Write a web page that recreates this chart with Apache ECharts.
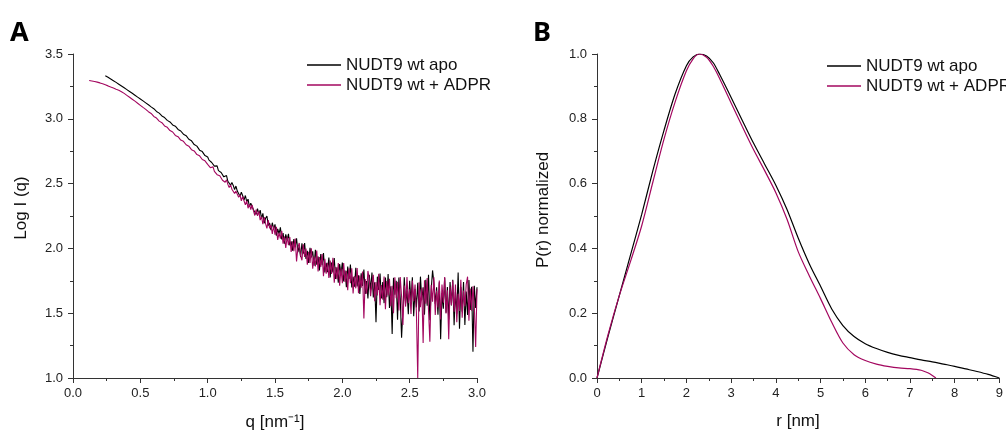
<!DOCTYPE html>
<html><head><meta charset="utf-8">
<script src="https://cdn.jsdelivr.net/npm/echarts@6.0.0/dist/echarts.min.js"></script>
<style>html,body{margin:0;padding:0;background:#fff}#c{width:1006px;height:430px}</style>
</head><body><div id="c"></div><script>
// ---- Panel A: SAXS log I(q) ----
const seriesNames = ['NUDT9 wt apo', 'NUDT9 wt + ADPR'];
const qSmooth = [0.12,0.14,0.16,0.18,0.20,0.22,0.24,0.26,0.28,0.30,0.32,0.34,0.36,0.38,0.40,0.42,0.44,0.46,0.48,0.50,0.52,0.54,0.56,0.58,0.60,0.62,0.64,0.66,0.68,0.70,0.72,0.74,0.76,0.78,0.80,0.82,0.84,0.86,0.88,0.90,0.92,0.94,0.96,0.98];
const apoSmooth = [null,null,null,null,null,null,3.332,3.320,3.307,3.294,3.281,3.267,3.253,3.239,3.225,3.211,3.197,3.182,3.167,3.153,3.138,3.123,3.108,3.092,3.078,3.057,3.044,3.022,3.010,2.988,2.976,2.953,2.943,2.918,2.906,2.881,2.870,2.842,2.830,2.801,2.789,2.758,2.747,2.716];
const adprSmooth = [3.296,3.292,3.288,3.283,3.277,3.270,3.262,3.254,3.245,3.237,3.228,3.220,3.209,3.196,3.181,3.166,3.151,3.136,3.120,3.104,3.088,3.073,3.055,3.041,3.018,3.006,2.982,2.970,2.945,2.934,2.909,2.898,2.872,2.862,2.836,2.826,2.800,2.789,2.762,2.752,2.724,2.714,2.686,2.676];
const qNoisy = [1.00,1.01,1.02,1.03,1.04,1.05,1.06,1.07,1.08,1.09,1.10,1.11,1.12,1.13,1.14,1.15,1.16,1.17,1.18,1.19,1.20,1.21,1.22,1.23,1.24,1.25,1.26,1.27,1.28,1.29,1.30,1.31,1.32,1.33,1.34,1.35,1.36,1.37,1.38,1.39,1.40,1.41,1.42,1.43,1.44,1.45,1.46,1.47,1.48,1.49,1.50,1.51,1.52,1.53,1.54,1.55,1.56,1.57,1.58,1.59,1.60,1.61,1.62,1.63,1.64,1.65,1.66,1.67,1.68,1.69,1.70,1.71,1.72,1.73,1.74,1.75,1.76,1.77,1.78,1.79,1.80,1.81,1.82,1.83,1.84,1.85,1.86,1.87,1.88,1.89,1.90,1.91,1.92,1.93,1.94,1.95,1.96,1.97,1.98,1.99,2.00,2.01,2.02,2.03,2.04,2.05,2.06,2.07,2.08,2.09,2.10,2.11,2.12,2.13,2.14,2.15,2.16,2.17,2.18,2.19,2.20,2.21,2.22,2.23,2.24,2.25,2.26,2.27,2.28,2.29,2.30,2.31,2.32,2.33,2.34,2.35,2.36,2.37,2.38,2.39,2.40,2.41,2.42,2.43,2.44,2.45,2.46,2.47,2.48,2.49,2.50,2.51,2.52,2.53,2.54,2.55,2.56,2.57,2.58,2.59,2.60,2.61,2.62,2.63,2.64,2.65,2.66,2.67,2.68,2.69,2.70,2.71,2.72,2.73,2.74,2.75,2.76,2.77,2.78,2.79,2.80,2.81,2.82,2.83,2.84,2.85,2.86,2.87,2.88,2.89,2.90,2.91,2.92,2.93,2.94,2.95,2.96,2.97,2.98,2.99,3.00];
const apoNoisy = [
2.705,2.681,2.688,2.663,2.668,2.635,2.640,2.637,2.600,2.609,
2.586,2.594,2.552,2.564,2.562,2.518,2.524,2.488,2.508,2.486,
2.454,2.481,2.442,2.451,2.402,2.433,2.406,2.373,2.408,2.361,
2.380,2.321,2.348,2.357,2.298,2.311,2.262,2.307,2.264,2.295,
2.230,2.270,2.194,2.232,2.250,2.176,2.196,2.140,2.198,2.150,
2.186,2.099,2.150,2.113,2.162,2.069,2.118,2.037,2.108,2.065,
2.112,2.023,2.054,1.983,2.072,2.009,2.078,1.971,2.018,1.935,
2.040,1.959,2.042,1.919,1.982,1.887,2.004,1.931,1.978,1.867,
1.990,1.874,1.938,1.830,1.956,1.870,1.964,1.814,1.888,1.816,
1.930,1.775,1.890,1.815,1.926,1.765,1.854,1.735,1.880,1.805,
1.890,1.745,1.830,1.701,1.860,1.765,1.876,1.699,1.780,1.705,
1.850,1.706,1.792,1.648,1.808,1.710,1.836,1.648,1.748,1.614,
1.796,1.677,1.814,1.621,1.738,1.430,1.782,1.679,1.806,1.613,
1.740,1.578,1.776,1.624,1.802,1.540,1.708,1.340,1.774,1.642,
1.750,1.450,1.776,1.614,1.310,1.530,1.778,1.576,1.674,1.492,
1.750,1.589,1.778,1.477,1.686,1.545,1.734,1.513,1.782,1.601,
1.700,1.489,1.758,1.557,1.796,1.445,1.684,1.830,1.732,1.571,
1.700,1.489,1.738,1.300,1.656,1.535,1.774,1.503,1.702,1.451,
1.740,1.559,1.758,1.407,1.666,1.495,1.814,1.380,1.702,1.511,
1.740,1.409,1.668,1.487,1.756,1.525,1.704,1.203,1.712,1.541,1.700];
const adprNoisy = [
2.649,2.655,2.623,2.629,2.629,2.595,2.603,2.569,2.581,2.561,
2.569,2.526,2.537,2.510,2.529,2.494,2.469,2.490,2.457,2.472,
2.423,2.442,2.444,2.395,2.413,2.366,2.402,2.367,2.337,2.366,
2.310,2.342,2.299,2.335,2.292,2.254,2.299,2.251,2.286,2.218,
2.245,2.187,2.241,2.191,2.155,2.219,2.155,2.181,2.111,2.175,
2.105,2.166,2.065,2.120,2.075,2.136,2.037,2.092,2.003,2.090,
2.025,2.088,1.972,2.055,1.978,2.076,1.900,2.008,2.042,1.945,
1.908,2.031,1.935,1.998,1.875,1.974,1.888,2.001,1.844,1.937,
1.860,1.984,1.822,1.933,1.857,1.957,1.785,1.919,1.804,1.888,
1.772,1.907,1.802,1.927,1.736,1.857,1.762,1.887,1.712,1.847,
1.732,1.887,1.742,1.827,1.678,1.847,1.732,1.847,1.652,1.787,
1.692,1.848,1.654,1.790,1.696,1.822,1.460,1.764,1.650,1.826,
1.762,1.632,1.729,1.796,1.593,1.740,1.637,1.804,1.561,1.718,
1.605,1.783,1.531,1.749,1.637,1.765,1.553,1.711,1.499,1.777,
1.615,1.743,1.521,1.779,1.627,1.410,1.713,1.551,1.779,1.577,
1.685,1.494,1.753,1.592,1.721,1.510,1.000,1.738,1.547,1.696,
1.270,1.754,1.573,1.772,1.521,1.280,1.719,1.588,1.777,1.486,
1.675,1.544,1.753,1.452,1.721,1.580,1.779,1.498,1.677,1.300,
1.705,1.564,1.753,1.512,1.721,1.430,1.649,1.518,1.757,1.466,
1.675,1.554,1.723,1.782,1.441,1.690,1.519,1.708,1.557,1.240,1.685];
const xTicksA = ['0.0','0.5','1.0','1.5','2.0','2.5','3.0'];
const yTicksA = ['1.0','1.5','2.0','2.5','3.0','3.5'];

// ---- Panel B: P(r) ----
const rApo  = [0,0.25,0.5,0.75,1,1.25,1.5,1.75,2,2.15,2.3,2.45,2.6,2.75,3,3.25,3.5,3.75,4,4.25,4.5,4.75,5,5.25,5.5,5.75,6,6.25,6.5,6.75,7,7.25,7.5,7.75,8,8.25,8.5,8.75,9];
const pApo  = [0,0.13,0.255,0.38,0.505,0.64,0.765,0.878,0.964,0.991,1.0,0.994,0.973,0.935,0.866,0.795,0.725,0.66,0.595,0.52,0.432,0.352,0.283,0.213,0.162,0.128,0.106,0.091,0.079,0.070,0.063,0.056,0.050,0.043,0.036,0.028,0.020,0.011,0];
const rAdpr = [0,0.25,0.5,0.75,1,1.25,1.5,1.75,2,2.15,2.28,2.45,2.6,2.75,3,3.25,3.5,3.75,4,4.25,4.5,4.75,5,5.25,5.5,5.75,6,6.25,6.5,6.75,7,7.25,7.4,7.5,7.58];
const pAdpr = [0,0.135,0.255,0.36,0.47,0.605,0.738,0.853,0.948,0.985,1.0,0.99,0.962,0.922,0.849,0.776,0.705,0.64,0.572,0.49,0.39,0.315,0.245,0.172,0.108,0.072,0.054,0.043,0.036,0.031,0.029,0.024,0.016,0.008,0];
const xTicksB = ['0','1','2','3','4','5','6','7','8','9'];
const yTicksB = ['0.0','0.2','0.4','0.6','0.8','1.0'];

const BLACK = '#000000', MAG = '#a3075f';
const FONT = "'Liberation Sans', Arial, sans-serif";
const AX = '#333333';

function pairs(xs, ys) {
  const out = [];
  for (let i = 0; i < xs.length; i++) if (ys[i] !== null) out.push([xs[i], ys[i]]);
  return out;
}
const qAll = qSmooth.concat(qNoisy);
const apoAll = apoSmooth.concat(apoNoisy);
const adprAll = adprSmooth.concat(adprNoisy);

function axis(grid, min, max, interval, labels, minorSplit, isX) {
  return {
    type: 'value', gridIndex: grid, min: min, max: max, interval: interval,
    axisLine: { show: true, onZero: false, lineStyle: { color: AX, width: 1 } },
    axisTick: { show: true, length: 5, lineStyle: { color: AX, width: 1 } },
    minorTick: { show: true, splitNumber: minorSplit, length: 3, lineStyle: { color: AX, width: 1 } },
    splitLine: { show: false },
    axisLabel: {
      show: true, showMinLabel: true, showMaxLabel: true,
      margin: isX ? 9 : 10, fontSize: 13, color: '#222', fontFamily: FONT,
      formatter: function (v, i) { return labels[i]; }
    }
  };
}

const chart = echarts.init(document.getElementById('c'), null, { renderer: 'canvas' });
const legendBase = {
  orient: 'vertical', icon: 'rect', itemWidth: 34, itemHeight: 1.3, itemGap: 0, selectedMode: false,
  data: seriesNames,
  textStyle: { fontSize: 17, fontFamily: FONT, color: '#111', lineHeight: 20, height: 20 }
};
chart.setOption({
  animation: false,
  backgroundColor: '#ffffff',
  grid: [
    { left: 73, top: 54, width: 404, height: 324, containLabel: false },
    { left: 597, top: 54, width: 403, height: 324, containLabel: false }
  ],
  legend: [
    Object.assign({}, legendBase, { left: 302, top: 50 }),
    Object.assign({}, legendBase, { left: 822, top: 51 })
  ],
  xAxis: [
    axis(0, 0, 3, 0.5, xTicksA, 2, true),
    axis(1, 0, 9, 1, xTicksB, 2, true)
  ],
  yAxis: [
    axis(0, 1, 3.5, 0.5, yTicksA, 2, false),
    axis(1, 0, 1, 0.2, yTicksB, 2, false)
  ],
  series: [
    { name: seriesNames[0], type: 'line', xAxisIndex: 0, yAxisIndex: 0, data: pairs(qAll, apoAll),
      symbol: 'none', lineStyle: { color: BLACK, width: 1.1 }, itemStyle: { color: BLACK } },
    { name: seriesNames[1], type: 'line', xAxisIndex: 0, yAxisIndex: 0, data: pairs(qAll, adprAll),
      symbol: 'none', lineStyle: { color: MAG, width: 1.1 }, itemStyle: { color: MAG } },
    { name: seriesNames[0], type: 'line', xAxisIndex: 1, yAxisIndex: 1, data: pairs(rApo, pApo),
      symbol: 'none', smooth: 0.3, lineStyle: { color: BLACK, width: 1.2 }, itemStyle: { color: BLACK } },
    { name: seriesNames[1], type: 'line', xAxisIndex: 1, yAxisIndex: 1, data: pairs(rAdpr, pAdpr),
      symbol: 'none', smooth: 0.3, lineStyle: { color: MAG, width: 1.2 }, itemStyle: { color: MAG } }
  ],
  graphic: [
    { type: 'text', x: 10, y: 33, style: { text: 'A', font: "bold 27px 'Noto Sans', sans-serif", fill: '#000', align: 'left', verticalAlign: 'middle' } },
    { type: 'text', x: 533, y: 33, style: { text: 'B', font: "bold 27px 'Noto Sans', sans-serif", fill: '#000', align: 'left', verticalAlign: 'middle' } },
    { type: 'text', x: 21, y: 208, rotation: Math.PI / 2, style: { text: 'Log I (q)', font: "17px 'Liberation Sans', Arial, sans-serif", fill: '#111', align: 'center', verticalAlign: 'middle' } },
    { type: 'text', x: 543, y: 210, rotation: Math.PI / 2, style: { text: 'P(r) normalized', font: "17px 'Liberation Sans', Arial, sans-serif", fill: '#111', align: 'center', verticalAlign: 'middle' } },
    { type: 'text', x: 275, y: 422, style: { text: 'q [nm\u207B\u00B9]', font: "17px 'Liberation Sans', Arial, sans-serif", fill: '#111', align: 'center', verticalAlign: 'middle' } },
    { type: 'text', x: 798, y: 421, style: { text: 'r [nm]', font: "17px 'Liberation Sans', Arial, sans-serif", fill: '#111', align: 'center', verticalAlign: 'middle' } }
  ]
});
</script></body></html>
